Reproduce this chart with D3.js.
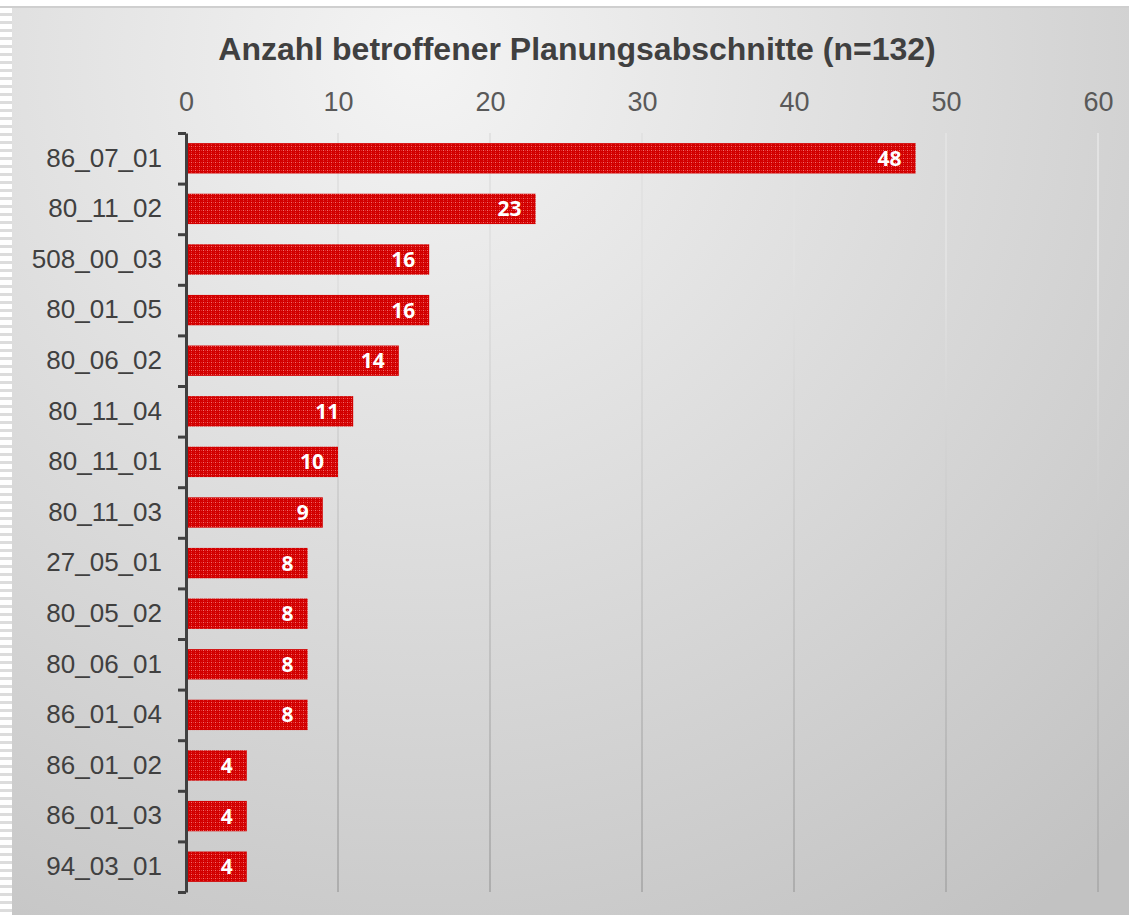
<!DOCTYPE html>
<html>
<head>
<meta charset="utf-8">
<script src="https://cdn.jsdelivr.net/npm/d3@7"></script>
<style>
  body { margin: 0; background: #fff; }
  svg { display: block; }
</style>
</head>
<body>
<svg id="chart"></svg>
<script>
// data
const categories = ['86_07_01', '80_11_02', '508_00_03', '80_01_05', '80_06_02', '80_11_04',
  '80_11_01', '80_11_03', '27_05_01', '80_05_02', '80_06_01', '86_01_04', '86_01_02', '86_01_03', '94_03_01'];
const counts = [48, 23, 16, 16, 14, 11, 10, 9, 8, 8, 8, 8, 4, 4, 4];
const xTicks = [0, 10, 20, 30, 40, 50, 60];
const title = 'Anzahl betroffener Planungsabschnitte (n=132)';

const W = 1129, H = 915;
const margin = {top: 133, right: 31, bottom: 23, left: 186};
const width = W - margin.left - margin.right;
const height = H - margin.top - margin.bottom;

const svg = d3.select('#chart').attr('width', W).attr('height', H);
const defs = svg.append('defs');

// background gradient
const bg = defs.append('radialGradient').attr('id', 'bg')
    .attr('gradientUnits', 'userSpaceOnUse')
    .attr('cx', 420).attr('cy', 60).attr('r', 1050);
bg.append('stop').attr('offset', '0%').attr('stop-color', '#f4f4f4');
bg.append('stop').attr('offset', '100%').attr('stop-color', '#c2c2c2');

// stripes on left edge
const stripes = defs.append('pattern').attr('id', 'stripes')
    .attr('patternUnits', 'userSpaceOnUse').attr('width', 12).attr('height', 8);
stripes.append('rect').attr('width', 12).attr('height', 8).attr('fill', '#ffffff');
stripes.append('rect').attr('y', 5).attr('width', 12).attr('height', 3).attr('fill', '#dcdcdc');

// bar texture
const tex = defs.append('pattern').attr('id', 'tex')
    .attr('patternUnits', 'userSpaceOnUse').attr('width', 4).attr('height', 4);
tex.append('rect').attr('width', 4).attr('height', 4).attr('fill', '#d20000');
tex.append('rect').attr('x', 1).attr('y', 1).attr('width', 1).attr('height', 1).attr('fill', '#f07070');
tex.append('rect').attr('x', 3).attr('y', 1).attr('width', 1).attr('height', 1).attr('fill', '#e23030');
tex.append('rect').attr('x', 1).attr('y', 3).attr('width', 1).attr('height', 1).attr('fill', '#e23030');

// grid gradient (lighter at top, darker at bottom)
const gg = defs.append('linearGradient').attr('id', 'gridGrad')
    .attr('gradientUnits', 'userSpaceOnUse')
    .attr('x1', 0).attr('y1', margin.top).attr('x2', 0).attr('y2', H - margin.bottom);
gg.append('stop').attr('offset', '0%').attr('stop-color', '#e2e2e2');
gg.append('stop').attr('offset', '100%').attr('stop-color', '#a2a2a2');

svg.append('rect').attr('x', 0).attr('y', 0).attr('width', W).attr('height', H).attr('fill', '#fff');
svg.append('rect').attr('x', 0).attr('y', 8).attr('width', 12).attr('height', H - 8).attr('fill', 'url(#stripes)');
svg.append('rect').attr('x', 12).attr('y', 8).attr('width', W - 12).attr('height', H - 8).attr('fill', 'url(#bg)');
svg.append('rect').attr('x', 0).attr('y', 6).attr('width', W).attr('height', 2).attr('fill', '#cfcfcf');

svg.append('text')
    .attr('x', 577).attr('y', 60)
    .attr('text-anchor', 'middle')
    .style('font-family', '"Liberation Sans", Arial, sans-serif')
    .style('font-weight', 'bold')
    .style('font-size', '32px')
    .attr('fill', '#404040')
    .text(title);

const chart = svg.append('g').attr('transform', `translate(${margin.left},${margin.top})`);

const xScale = d3.scaleLinear().domain([0, 60]).range([0, width]);
const yScale = d3.scaleBand().domain(categories).range([0, height])
    .paddingInner(0.4).paddingOuter(0.2);
const yEdges = d3.scaleLinear().domain([0, categories.length]).range([0, height]);

// gridlines
chart.append('g').selectAll('line')
    .data(xTicks.filter(d => d > 0))
    .join('line')
    .attr('x1', d => xScale(d)).attr('x2', d => xScale(d))
    .attr('y1', 0).attr('y2', height)
    .attr('stroke', 'url(#gridGrad)')
    .attr('stroke-width', 2);

// top x axis labels
const xAxis = d3.axisTop(xScale).tickValues(xTicks).tickSize(0).tickPadding(22);
const xAxisG = chart.append('g').attr('class', 'axis x-axis').call(xAxis);
xAxisG.select('.domain').remove();
xAxisG.selectAll('text')
    .style('font-family', '"Liberation Sans", Arial, sans-serif')
    .style('font-size', '27px')
    .attr('fill', '#595959');

// bars
chart.append('g').selectAll('rect')
    .data(counts)
    .join('rect')
    .attr('x', xScale(0) + 2)
    .attr('y', (d, i) => yScale(categories[i]))
    .attr('width', d => xScale(d) - xScale(0) - 2)
    .attr('height', yScale.bandwidth())
    .attr('fill', 'url(#tex)');

// value labels
chart.append('g').selectAll('text')
    .data(counts)
    .join('text')
    .attr('x', d => xScale(d) - 14)
    .attr('y', (d, i) => yScale(categories[i]) + yScale.bandwidth() / 2)
    .attr('dy', '0.36em')
    .attr('text-anchor', 'end')
    .style('font-family', '"Open Sans", sans-serif')
    .style('font-weight', 'bold')
    .style('font-size', '21px')
    .attr('fill', '#ffffff')
    .text(d => d);

// y axis labels
const yAxis = d3.axisLeft(yScale).tickSize(0).tickPadding(24);
const yAxisG = chart.append('g').attr('class', 'axis y-axis').call(yAxis);
yAxisG.select('.domain').remove();
yAxisG.selectAll('text')
    .style('font-family', '"Liberation Sans", Arial, sans-serif')
    .style('font-size', '26px')
    .attr('fill', '#404040');

// y axis line with ticks at category boundaries
const edgeAxis = d3.axisLeft(yEdges).tickValues(d3.range(categories.length + 1))
    .tickFormat('').tickSize(8).tickSizeOuter(0);
const edgeG = chart.append('g').call(edgeAxis);
edgeG.select('.domain').attr('stroke', '#404040').attr('stroke-width', 3);
edgeG.selectAll('.tick line').attr('stroke', '#404040').attr('stroke-width', 3);
</script>
</body>
</html>
